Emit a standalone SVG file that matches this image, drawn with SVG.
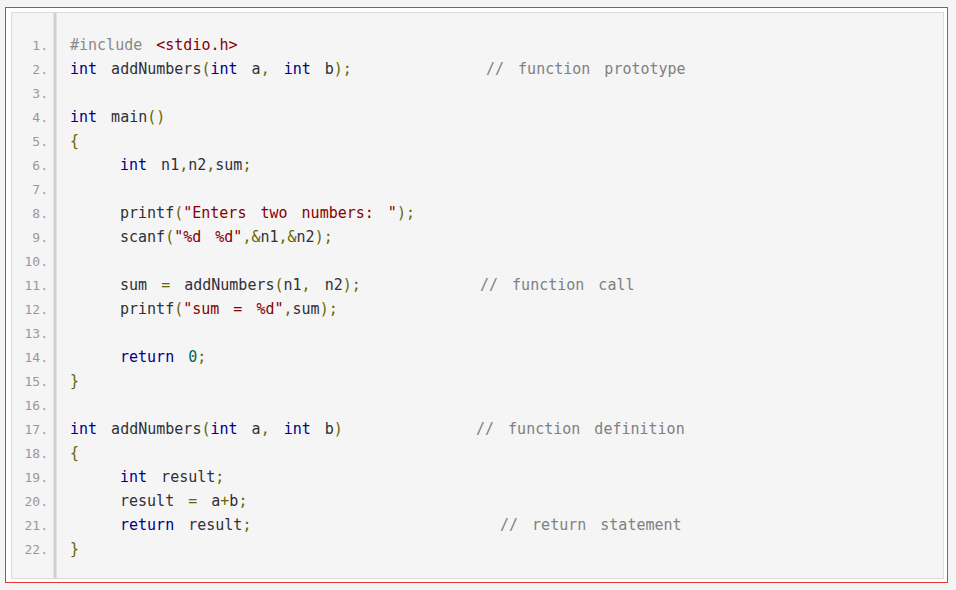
<svg xmlns="http://www.w3.org/2000/svg" width="956" height="590" viewBox="0 0 956 590">
<style>
text{font-family:"DejaVu Sans Mono","Liberation Mono",monospace;font-size:15px;word-spacing:5px;fill:#303038;white-space:pre}
.n{fill:#999;font-size:13px;text-anchor:end;word-spacing:0}
.k{fill:#000088}.p{fill:#666600}.s{fill:#880000}.c{fill:#808080}.i{fill:#888}
</style>
<rect width="956" height="590" fill="#f4f4f4"/>
<rect x="5.5" y="7.5" width="942" height="575" fill="#fff" stroke="#e53935" stroke-width="1"/>
<rect x="11.5" y="12.5" width="932" height="566" fill="#f5f5f5" stroke="#dcdcdc"/>
<line x1="55" y1="13" x2="55" y2="578" stroke="#d0d0d0" stroke-width="3"/>
<g id="numbers">
<text class="n" x="48" y="50">1.</text><text class="n" x="48" y="74">2.</text><text class="n" x="48" y="98">3.</text><text class="n" x="48" y="122">4.</text><text class="n" x="48" y="146">5.</text><text class="n" x="48" y="170">6.</text><text class="n" x="48" y="194">7.</text><text class="n" x="48" y="218">8.</text><text class="n" x="48" y="242">9.</text><text class="n" x="48" y="266">10.</text><text class="n" x="48" y="290">11.</text><text class="n" x="48" y="314">12.</text><text class="n" x="48" y="338">13.</text><text class="n" x="48" y="362">14.</text><text class="n" x="48" y="386">15.</text><text class="n" x="48" y="410">16.</text><text class="n" x="48" y="434">17.</text><text class="n" x="48" y="458">18.</text><text class="n" x="48" y="482">19.</text><text class="n" x="48" y="506">20.</text><text class="n" x="48" y="530">21.</text><text class="n" x="48" y="554">22.</text>
</g>
<g id="code">
<text x="70" y="50"><tspan class="i">#include </tspan><tspan class="s">&lt;stdio.h&gt;</tspan></text>
<text x="70" y="74"><tspan class="k">int</tspan> addNumbers<tspan class="p">(</tspan><tspan class="k">int</tspan> a<tspan class="p">,</tspan> <tspan class="k">int</tspan> b<tspan class="p">);</tspan></text>
<text class="c" x="486" y="74">// function prototype</text>
<text x="70" y="122"><tspan class="k">int</tspan> main<tspan class="p">()</tspan></text>
<text x="70" y="146" class="p">{</text>
<text x="120" y="170"><tspan class="k">int</tspan> n1<tspan class="p">,</tspan>n2<tspan class="p">,</tspan>sum<tspan class="p">;</tspan></text>
<text x="120" y="218">printf<tspan class="p">(</tspan><tspan class="s">"Enters two numbers: "</tspan><tspan class="p">);</tspan></text>
<text x="120" y="242">scanf<tspan class="p">(</tspan><tspan class="s">"%d %d"</tspan><tspan class="p">,&amp;</tspan>n1<tspan class="p">,&amp;</tspan>n2<tspan class="p">);</tspan></text>
<text x="120" y="290">sum <tspan class="p">=</tspan> addNumbers<tspan class="p">(</tspan>n1<tspan class="p">,</tspan> n2<tspan class="p">);</tspan></text>
<text class="c" x="480" y="290">// function call</text>
<text x="120" y="314">printf<tspan class="p">(</tspan><tspan class="s">"sum = %d"</tspan><tspan class="p">,</tspan>sum<tspan class="p">);</tspan></text>
<text x="120" y="362"><tspan class="k">return</tspan> <tspan fill="#006666">0</tspan><tspan class="p">;</tspan></text>
<text x="70" y="386" class="p">}</text>
<text x="70" y="434"><tspan class="k">int</tspan> addNumbers<tspan class="p">(</tspan><tspan class="k">int</tspan> a<tspan class="p">,</tspan> <tspan class="k">int</tspan> b<tspan class="p">)</tspan></text>
<text class="c" x="476" y="434">// function definition</text>
<text x="70" y="458" class="p">{</text>
<text x="120" y="482"><tspan class="k">int</tspan> result<tspan class="p">;</tspan></text>
<text x="120" y="506">result <tspan class="p">=</tspan> a<tspan class="p">+</tspan>b<tspan class="p">;</tspan></text>
<text x="120" y="530"><tspan class="k">return</tspan> result<tspan class="p">;</tspan></text>
<text class="c" x="500" y="530">// return statement</text>
<text x="70" y="554" class="p">}</text>
</g>
</svg>
